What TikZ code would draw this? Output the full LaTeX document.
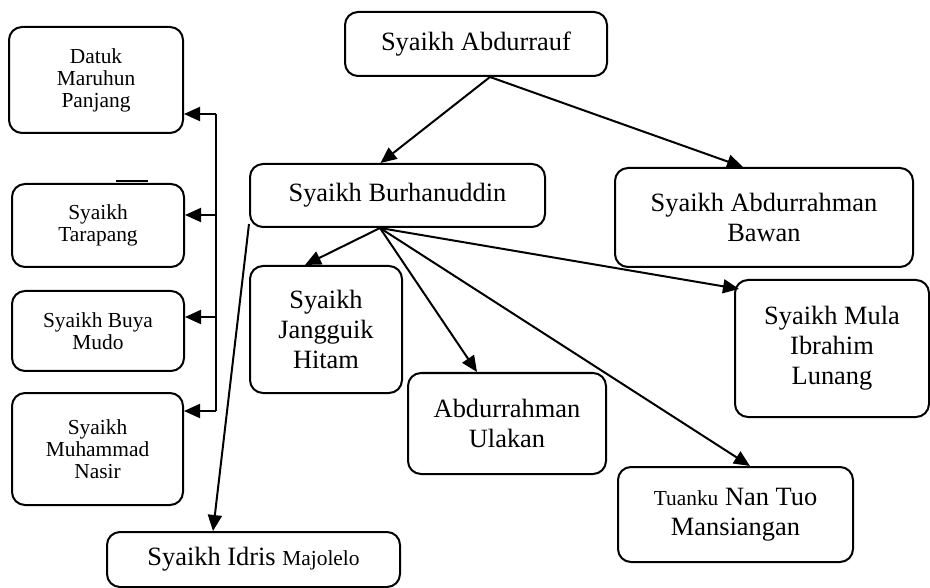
\documentclass[tikz,border=0pt]{standalone}
\usepackage{fontspec}
\setmainfont{Liberation Serif}
\usetikzlibrary{arrows.meta}

\newcommand{\bigtxt}{\fontsize{26.4}{30}\selectfont}
\newcommand{\smalltxt}{\fontsize{21.4}{22}\selectfont}

\tikzset{
	box/.style={draw,rounded corners=13pt,line width=2pt,align=center,font=\bigtxt},
	smallbox/.style={box,font=\smalltxt},
	link/.style={line width=2pt,-{Triangle[length=16pt,width=14pt]}}
}

\begin{document}
\begin{tikzpicture}[x=1pt,y=-1pt]
			\useasboundingbox (0,0) rectangle (930,588);
			\draw (476,44) node [box,minimum width=262pt,minimum height=64pt] (abdurrauf) {Syaikh Abdurrauf};
			\draw (397.5,195.5) node [box,minimum width=295pt,minimum height=63pt] (burhanuddin) {Syaikh Burhanuddin};
			\draw (764,217.5) node [box,minimum width=298pt,minimum height=99pt] (bawan) {Syaikh Abdurrahman\\Bawan};
			\draw (96,80) node [smallbox,minimum width=174pt,minimum height=106pt] (datuk) {Datuk\\Maruhun\\Panjang};
			\draw (98,225.5) node [smallbox,minimum width=172pt,minimum height=83pt] (tarapang) {Syaikh\\Tarapang};
			\draw (98,331) node [smallbox,minimum width=172pt,minimum height=80pt] (buyamudo) {Syaikh Buya\\Mudo};
			\draw (97.5,449) node [smallbox,minimum width=171pt,minimum height=112pt] (nasir) {Syaikh\\Muhammad\\Nasir};
			\draw (326,329.5) node [box,minimum width=152pt,minimum height=127pt] (jangguik) {Syaikh\\Jangguik\\Hitam};
			\draw (507,423.5) node [box,minimum width=198pt,minimum height=101pt] (ulakan) {Abdurrahman\\Ulakan};
			\draw (832,348.5) node [box,minimum width=194pt,minimum height=137pt] (mula) {Syaikh Mula\\Ibrahim\\Lunang};
			\draw (735.5,514.5) node [box,minimum width=235pt,minimum height=95pt] (tuanku) {{\smalltxt Tuanku} Nan Tuo\\Mansiangan};
			\draw (253.5,559.5) node [box,minimum width=293pt,minimum height=55pt] (idris) {Syaikh Idris {\smalltxt Majolelo}};
			% small mark over the Tarapang box
			\draw[line width=2pt] ([shift={(18pt,2pt)}]tarapang.north) -- ++(32pt,0pt);
			% bracket on the left
			\coordinate (b1) at (216,114);
			\coordinate (b2) at (216,215);
			\coordinate (b3) at (216,317);
			\coordinate (b4) at (216,411);
			\draw[line width=2pt] (b1) -- (b4);
			\path[link]
				(b1) edge (datuk.east |- b1)
				(b2) edge (tarapang.east |- b2)
				(b3) edge (buyamudo.east |- b3)
				(b4) edge (nasir.east |- b4);
			\path[link]
				([xshift=14pt]abdurrauf.south) edge ([xshift=-17pt]burhanuddin.north)
					edge ([xshift=-21pt]bawan.north)
				([xshift=-17.5pt]burhanuddin.south) edge ([xshift=-21pt]jangguik.north)
					edge ([xshift=-30pt]ulakan.north)
					edge ([shift={(5pt,-10pt)}]mula.north west)
					edge ([xshift=14.5pt]tuanku.north)
				([yshift=4pt]burhanuddin.south west) edge ([xshift=-40.5pt]idris.north);
		\end{tikzpicture}
\end{document}
